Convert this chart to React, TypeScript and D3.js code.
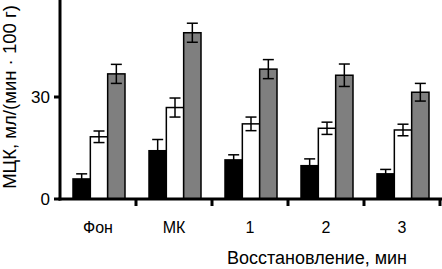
import React from "react";
import * as d3 from "d3";

const categories = ["Фон", "МК", "1", "2", "3"];
const seriesNames = ["black", "white", "gray"];
const seriesColors = ["#000000", "#ffffff", "#7f7f7f"];
const blackValues = [5.9, 14.2, 11.5, 9.8, 7.4];
const blackErrors = [1.5, 3.3, 1.5, 2.0, 1.3];
const whiteValues = [18.3, 26.9, 22.1, 20.8, 20.3];
const whiteErrors = [1.7, 2.8, 2.0, 1.8, 1.7];
const grayValues = [36.8, 48.9, 38.2, 36.4, 31.4];
const grayErrors = [2.8, 2.8, 2.8, 3.3, 2.6];
const yTicks = [0, 30];
const yLabel = "МЦК, мл/(мин · 100 г)";
const xLabel = "Восстановление, мин";

const W = 442;
const H = 269;

export default function App() {
  const x0 = 60;
  const y0 = 199;
  const y = d3.scaleLinear().domain([0, 58.53]).range([y0, 0]);
  const x = d3.scaleBand<string>().domain(categories).range([x0, x0 + 76 * categories.length]).paddingInner(0).paddingOuter(0);
  const xs = d3.scaleBand<string>().domain(seriesNames).range([13, 65]).padding(0);
  const values = [blackValues, whiteValues, grayValues];
  const errors = [blackErrors, whiteErrors, grayErrors];
  const font = "Arial, 'Liberation Sans', Helvetica, sans-serif";

  return (
    <svg width={W} height={H} style={{ position: "absolute", left: 0, top: 0, background: "#fff" }} fontFamily={font}>
      <rect x={0} y={0} width={W} height={H} fill="#fff" />
      {categories.map((c, ci) =>
        seriesNames.map((s, si) => {
          const bx = (x(c) as number) + (xs(s) as number);
          const bw = xs.bandwidth();
          const v = values[si][ci];
          const e = errors[si][ci];
          const cx = bx + bw / 2;
          return (
            <g key={c + s}>
              <rect x={bx} y={y(v)} width={bw} height={y0 - y(v)} fill={seriesColors[si]} stroke="#000" strokeWidth={1.5} />
              <line x1={cx} x2={cx} y1={y(v + e)} y2={y(v - e)} stroke="#000" strokeWidth={1.5} />
              <line x1={cx - 5.5} x2={cx + 5.5} y1={y(v + e)} y2={y(v + e)} stroke="#000" strokeWidth={1.5} />
              <line x1={cx - 5.5} x2={cx + 5.5} y1={y(v - e)} y2={y(v - e)} stroke="#000" strokeWidth={1.5} />
            </g>
          );
        })
      )}
      {/* axes */}
      <line x1={x0} x2={x0} y1={0} y2={y0 + 1.5} stroke="#000" strokeWidth={3} />
      <line x1={x0 - 1.5} x2={W} y1={y0} y2={y0} stroke="#000" strokeWidth={3} />
      {yTicks.map((t) => (
        <g key={t}>
          <line x1={x0 - 6} x2={x0} y1={y(t)} y2={y(t)} stroke="#000" strokeWidth={3} />
          <text x={x0 - 10} y={y(t)} dy="0.36em" textAnchor="end" fontSize={17}>{t}</text>
        </g>
      ))}
      {categories.map((c) => (
        <g key={c}>
          <line x1={(x(c) as number) + 76} x2={(x(c) as number) + 76} y1={y0} y2={y0 + 7} stroke="#000" strokeWidth={3} />
          <text x={(x(c) as number) + 38} y={233} textAnchor="middle" fontSize={16}>{c}</text>
        </g>
      ))}
      <text x={317} y={264} textAnchor="middle" fontSize={18}>{xLabel}</text>
      <text transform={`translate(16, 97) rotate(-90)`} textAnchor="middle" fontSize={18.5}>{yLabel}</text>
    </svg>
  );
}
